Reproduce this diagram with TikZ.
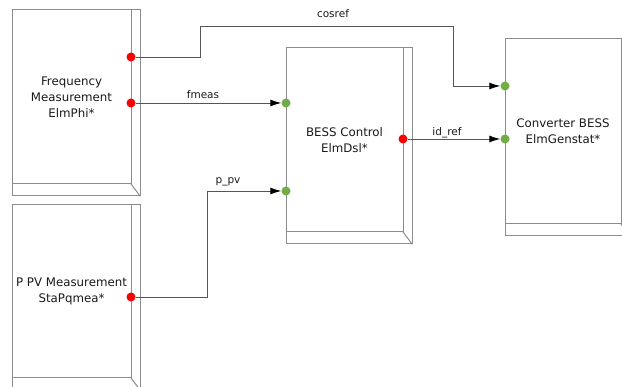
\documentclass[tikz,border=0pt]{standalone}
\usepackage{fontspec}
\setmainfont{DejaVu Sans}
\usetikzlibrary{arrows.meta,calc,positioning}
\definecolor{framegray}{RGB}{140,140,140}
\definecolor{wiregray}{RGB}{85,85,85}
\definecolor{outred}{RGB}{250,0,0}
\definecolor{ingreen}{RGB}{112,173,71}
\tikzset{
  frame/.style={draw=framegray,line width=1pt,line cap=rect},
  face/.style={frame,anchor=north west,inner sep=0pt,outer sep=0pt,align=center,
               text=black!90,font=\fontsize{11.8}{16}\selectfont},
  wire/.style={draw=wiregray,line width=0.9pt},
  signal/.style={wire,-{Latex[length=11pt,width=7pt,fill=black,color=black]}},
  outport/.style={circle,fill=outred,inner sep=0pt,minimum size=9pt},
  inport/.style={circle,fill=ingreen,inner sep=0pt,minimum size=9pt},
  lab/.style={anchor=base,text=black!90,font=\fontsize{10.5}{12}\selectfont},
}
\begin{document}
\begin{tikzpicture}[x=1pt,y=-1pt]
  \useasboundingbox (0,0) rectangle (622,387);

  % blocks
  \node[face,minimum width=119pt,minimum height=174pt] (fm) at (12,10)
    {Frequency\\Measurement\\ElmPhi*};
  \node[face,minimum width=119pt,minimum height=173pt] (pv) at (12,205)
    {P PV Measurement\\StaPqmea*};
  \node[face,minimum width=117pt,minimum height=184pt] (bc) at (286,48)
    {BESS Control\\ElmDsl*};
  \node[face,minimum width=116pt,minimum height=185pt] (cv) at (505,39)
    {Converter BESS\\ElmGenstat*};
  \foreach \b in {fm,pv,bc,cv}{
    \draw[frame] (\b.north east) -- ++(9,0) |- ($(\b.south west)+(0,12)$) -- (\b.south west);
    \draw[frame] (\b.south east) -- ++(9,12);
  }

  % ports
  \node[outport] (fm-cos) at (131,57) {};
  \node[outport] (fm-f) at (131,103) {};
  \node[outport] (pv-p) at (131,297) {};
  \node[inport] (bc-f) at (286,103) {};
  \node[inport] (bc-pv) at (286,191) {};
  \node[outport] (bc-id) at (403,139) {};
  \node[inport] (cv-cos) at (505,86) {};
  \node[inport] (cv-id) at (505,139) {};

  % signals
  \coordinate (cosA) at (200,26);
  \coordinate (cosB) at (453,26);
  \coordinate (pvA) at (207,191);
  \draw[signal] (fm-cos) -| (cosA) -- (cosB) |- (cv-cos);
  \draw[signal] (fm-f) -- (bc-f);
  \draw[signal] (pv-p) -| (pvA) -- (bc-pv);
  \draw[signal] (bc-id) -- (cv-id);

  \node[lab] (l-cos) at (333,18) {cosref};
  \node[lab] (l-f) at (203,99) {fmeas};
  \node[lab] (l-pv) at (228,184) {p\_pv};
  \node[lab] (l-id) at (447,136) {id\_ref};
\end{tikzpicture}
\end{document}
